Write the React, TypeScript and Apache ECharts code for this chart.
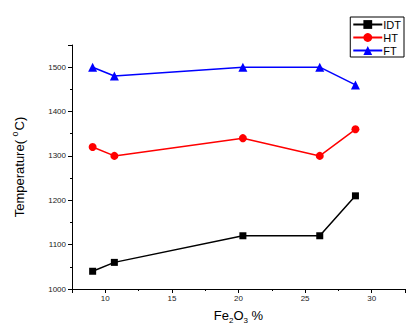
import React, { useEffect, useRef } from "react";
import * as echarts from "echarts";

const fe2o3 = [9.05, 10.68, 20.33, 26.1, 28.78];
const idt = [1040, 1060, 1120, 1120, 1210];
const ht = [1320, 1300, 1340, 1300, 1360];
const ft = [1500, 1480, 1500, 1500, 1460];
const seriesNames = ["IDT", "HT", "FT"];

const FONT = "Liberation Sans, Arial, sans-serif";

export default function App() {
  const ref = useRef<HTMLDivElement>(null);
  useEffect(() => {
    if (!ref.current) return;
    const chart = echarts.init(ref.current, undefined, { renderer: "svg" });
    const pair = (ys: number[]) => fe2o3.map((x, i) => [x, ys[i]]);
    chart.setOption({
      animation: false,
      backgroundColor: "#fff",
      textStyle: { fontFamily: FONT },
      grid: { left: 72, right: 5, top: 45, bottom: 36, outerBoundsMode: "none", containLabel: false },
      legend: {
        orient: "vertical",
        right: 6,
        top: 17,
        data: seriesNames,
        borderColor: "#000",
        borderWidth: 1,
        padding: [2, 3, 1, 2],
        itemWidth: 29,
        itemHeight: 11,
        itemGap: 2,
        textStyle: { fontSize: 11, color: "#000", fontFamily: FONT, padding: [0, 0, 0, -4] },
      },
      xAxis: {
        type: "value",
        min: 7.5,
        max: 32.5,
        splitNumber: 5,
        name: "{n|Fe}{s|2}{n|O}{s|3}{n| %}",
        nameLocation: "middle",
        nameGap: 20,
        nameTextStyle: {
          rich: {
            n: { fontSize: 13, lineHeight: 15, color: "#000", fontFamily: FONT, verticalAlign: "top" },
            s: { fontSize: 8, lineHeight: 8, color: "#000", fontFamily: FONT, verticalAlign: "bottom" },
          },
        },
        axisLine: { lineStyle: { color: "#000", width: 1 } },
        axisTick: { show: true, length: 4, lineStyle: { color: "#000" } },
        minorTick: { show: true, splitNumber: 2, length: 2, lineStyle: { color: "#000" } },
        splitLine: { show: false },
        axisLabel: { fontSize: 8, color: "#222", margin: 5, showMinLabel: false, showMaxLabel: false },
      },
      yAxis: {
        type: "value",
        min: 1000,
        max: 1550,
        interval: 100,
        name: "{n|Temperature( }{p|o}{n|C)}",
        nameLocation: "middle",
        nameRotate: 90,
        nameGap: 46,
        nameTextStyle: {
          rich: {
            n: { fontSize: 13, lineHeight: 16, color: "#000", fontFamily: FONT, verticalAlign: "bottom" },
            p: { fontSize: 9, lineHeight: 9, color: "#000", fontFamily: FONT, verticalAlign: "top", padding: [0, 1, 0, 0] },
          },
        },
        axisLine: { show: true, lineStyle: { color: "#000", width: 1 } },
        axisTick: { show: true, length: 4, lineStyle: { color: "#000" } },
        minorTick: { show: true, splitNumber: 2, length: 2, lineStyle: { color: "#000" } },
        splitLine: { show: false },
        axisLabel: {
          fontSize: 8,
          color: "#222",
          margin: 6,
          showMaxLabel: false,
          formatter: (v: number) => String(v),
        },
      },
      series: [
        {
          name: "IDT",
          type: "line",
          data: pair(idt),
          symbol: "rect",
          symbolSize: 7,
          itemStyle: { color: "#000" },
          lineStyle: { color: "#000", width: 1.5 },
        },
        {
          name: "HT",
          type: "line",
          data: pair(ht),
          symbol: "circle",
          symbolSize: 8,
          itemStyle: { color: "#f00" },
          lineStyle: { color: "#f00", width: 1.5 },
        },
        {
          name: "FT",
          type: "line",
          data: pair(ft),
          symbol: "triangle",
          symbolSize: 9,
          itemStyle: { color: "#00f" },
          lineStyle: { color: "#00f", width: 1.5 },
        },
      ],
    });
    return () => chart.dispose();
  }, []);
  return (
    <div
      ref={ref}
      style={{ position: "fixed", left: 0, top: 0, width: 410, height: 325 }}
    />
  );
}
